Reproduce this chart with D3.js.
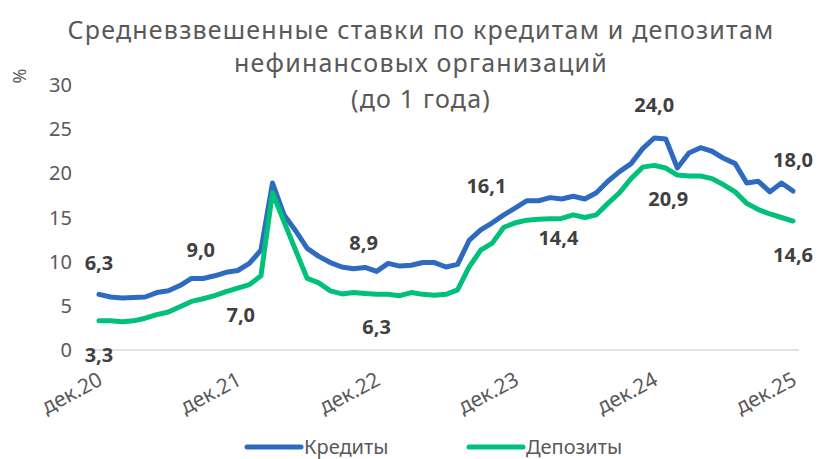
<!DOCTYPE html>
<html>
<head>
<meta charset="utf-8">
<script src="https://cdn.jsdelivr.net/npm/d3@7"></script>
<style>
  body { margin: 0; background: #fff; }
  svg text { font-family: 'Noto Sans', 'Open Sans', sans-serif; }
</style>
</head>
<body>
<div id="chart"></div>
<script>
// monthly, dec.2020 .. dec.2025
var months = d3.timeMonth.range(new Date(2020, 11, 1), new Date(2026, 0, 1));
var tickMonths = [0, 12, 24, 36, 48, 60];
var tickLabels = ['дек.20', 'дек.21', 'дек.22', 'дек.23', 'дек.24', 'дек.25'];
var yTicks = [0, 5, 10, 15, 20, 25, 30];

var credits = [6.3, 6.0, 5.9, 5.95, 6.0, 6.5, 6.7, 7.3, 8.1, 8.1, 8.4, 8.8, 9.0,
  9.8, 11.3, 18.9, 15.3, 13.5, 11.5, 10.6, 9.9, 9.4, 9.2, 9.35, 8.9,
  9.8, 9.5, 9.6, 9.9, 9.9, 9.4, 9.7, 12.4, 13.6, 14.4, 15.3, 16.1,
  16.9, 16.9, 17.25, 17.1, 17.4, 17.1, 17.8, 19.1, 20.2, 21.1, 22.8, 24.0,
  23.9, 20.6, 22.3, 22.9, 22.5, 21.7, 21.1, 18.9, 19.1, 17.9, 18.9, 18.0];
var deposits = [3.3, 3.3, 3.2, 3.3, 3.6, 4.0, 4.3, 4.9, 5.5, 5.8, 6.15, 6.6, 7.0,
  7.4, 8.4, 17.8, 14.5, 11.3, 8.1, 7.6, 6.7, 6.35, 6.5, 6.4, 6.3,
  6.3, 6.15, 6.5, 6.3, 6.2, 6.3, 6.8, 9.4, 11.3, 12.1, 13.9, 14.4,
  14.7, 14.8, 14.85, 14.9, 15.3, 15.0, 15.3, 16.6, 17.8, 19.4, 20.7, 20.9,
  20.6, 19.8, 19.7, 19.7, 19.4, 18.7, 17.9, 16.6, 15.9, 15.4, 15.0, 14.6];
var seriesNames = ['Кредиты', 'Депозиты'];

var colors = { 'Кредиты': '#2e6bc0', 'Депозиты': '#00c07a' };

var width = 818, height = 459;
var svg = d3.select('#chart').append('svg')
    .attr('width', width)
    .attr('height', height);

var x = d3.scalePoint()
    .domain(d3.range(months.length))
    .range([93.2, 798.8])
    .padding(0.5);
var y = d3.scaleLinear().domain([0, 30]).range([350, 85]);

// title
var title = ['Средневзвешенные ставки по кредитам и депозитам',
             'нефинансовых организаций', '(до 1 года)'];
svg.append('g').selectAll('text')
    .data(title)
    .enter().append('text')
    .attr('x', 421)
    .attr('y', function (d, i) { return [39, 72, 108][i]; })
    .attr('text-anchor', 'middle')
    .style('font-size', '25px')
    .style('letter-spacing', '1.2px')
    .style('fill', '#595959')
    .text(function (d) { return d; });

// y axis labels
svg.append('g').selectAll('text')
    .data(yTicks)
    .enter().append('text')
    .attr('x', 72)
    .attr('y', function (d) { return y(d); })
    .attr('dy', '0.35em')
    .attr('text-anchor', 'end')
    .style('font-size', '20px')
    .style('fill', '#595959')
    .text(function (d) { return d; });

svg.append('text')
    .attr('transform', 'translate(26,76) rotate(-90)')
    .attr('text-anchor', 'middle')
    .style('font-size', '18px')
    .style('fill', '#595959')
    .text('%');

// baseline
svg.append('line')
    .attr('x1', 93.2).attr('x2', 798.8)
    .attr('y1', y(0)).attr('y2', y(0))
    .style('stroke', '#d9d9d9')
    .style('stroke-width', 1.5);

// x labels
svg.append('g').selectAll('text')
    .data(tickMonths)
    .enter().append('text')
    .attr('transform', function (d) {
        return 'translate(' + (x(d) + 5) + ',' + 384 + ') rotate(-28)';
    })
    .attr('text-anchor', 'end')
    .style('font-size', '21px')
    .style('fill', '#595959')
    .text(function (d, i) { return tickLabels[i]; });

// lines
var line = d3.line()
    .x(function (d, i) { return x(i); })
    .y(function (d) { return y(d); });

var series = [credits, deposits];
svg.append('g').selectAll('path')
    .data(series)
    .enter().append('path')
    .attr('d', line)
    .style('fill', 'none')
    .style('stroke', function (d, i) { return colors[seriesNames[i]]; })
    .style('stroke-width', 5)
    .style('stroke-linejoin', 'round')
    .style('stroke-linecap', 'round');

// data labels
var fmt = function (v) { return d3.format('.1f')(v).replace('.', ','); };
var labelOffsets = [
    [[0, -31], [-37, -21], [-13, -28], [-29, -22], [0, -33], [0, -31]],
    [[0, 34], [3, 27], [0, 33], [43, 15], [14, 34], [0, 34]]
];
series.forEach(function (s, si) {
    svg.append('g').selectAll('text')
        .data(tickMonths)
        .enter().append('text')
        .attr('x', function (d, i) { return x(d) + labelOffsets[si][i][0]; })
        .attr('y', function (d, i) { return y(s[d]) + labelOffsets[si][i][1]; })
        .attr('dy', '0.35em')
        .attr('text-anchor', 'middle')
        .style('font-size', '20px')
        .style('font-weight', 'bold')
        .style('fill', '#404040')
        .text(function (d) { return fmt(s[d]); });
});

// legend
var legendX = [245, 467];
var legend = svg.append('g').selectAll('g')
    .data(seriesNames)
    .enter().append('g')
    .attr('transform', function (d, i) { return 'translate(' + legendX[i] + ',447)'; });
legend.append('line')
    .attr('x1', 2).attr('x2', 56)
    .style('stroke', function (d) { return colors[d]; })
    .style('stroke-width', 5)
    .style('stroke-linecap', 'round');
legend.append('text')
    .attr('x', 59)
    .attr('dy', '0.35em')
    .style('font-size', '20px')
    .style('fill', '#595959')
    .text(function (d) { return d; });
</script>
</body>
</html>
